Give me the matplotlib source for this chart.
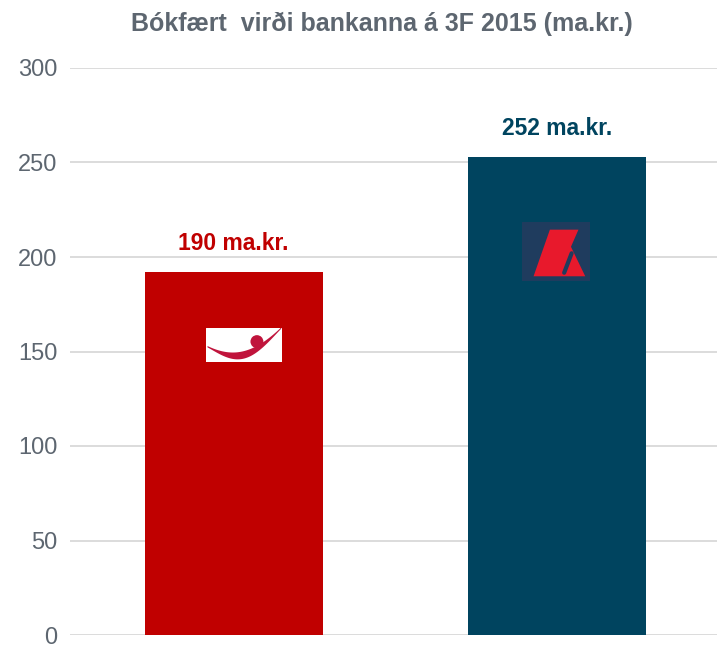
import matplotlib
matplotlib.use("Agg")
import matplotlib.pyplot as plt
from matplotlib.patches import Rectangle, Polygon, Ellipse
import numpy as np

banks = ["Íslandsbanki", "Landsbankinn"]
values = [192, 253]
labels = ["190 ma.kr.", "252 ma.kr."]
colors = ["#C00000", "#00445F"]
title = "Bókfært  virði bankanna á 3F 2015 (ma.kr.)"

plt.rcParams['font.family'] = ['Liberation Sans', 'DejaVu Sans']
W, H = 717, 649
fig = plt.figure(figsize=(W/100, H/100), dpi=100)
ax = fig.add_axes([70/W, 1-635/H, 647/W, 567/H])

x = np.arange(len(values))
ax.bar(x + 0.006, values, width=0.55, color=colors, zorder=2)
ax.set_xlim(-0.5, 1.5)
ax.set_ylim(0, 300)
ax.set_yticks(range(0, 301, 50))
ax.set_xticks([])
ax.yaxis.grid(True, color="#d9d9d9", lw=1.3, zorder=0)
for s in ax.spines.values():
    s.set_visible(False)
ax.tick_params(axis='y', length=0, labelsize=17, labelcolor="#5d6670", pad=9)

for xi, v, lab, c in zip(x, values, labels, colors):
    ax.text(xi + 0.006, v + 9, lab, ha='center', va='bottom', fontsize=16.5,
            fontweight='bold', color=c)

fig.text(382/W, 1-24/H, title, ha='center', va='center', fontsize=18,
         fontweight='bold', color="#5d6670")

# Íslandsbanki logo
la = fig.add_axes([206/W, 1-362/H, 76/W, 34/H])
la.set_xlim(0, 1); la.set_ylim(0, 1); la.axis('off')
la.add_patch(Rectangle((0, 0), 1, 1, color="white"))
t = np.linspace(0, 1, 80)
xc = 0.02 + 0.97*t
yc = 0.45 - 0.32*np.sin(np.pi*t*1.1) + 0.45*t**2.5
thick = 0.04 + 0.18*np.sin(np.pi*t)**1.5
la.add_patch(Polygon(np.vstack([np.c_[xc, yc + thick/2], np.c_[xc, yc - thick/2][::-1]]),
                     color="#C0143C", lw=0))
la.add_patch(Ellipse((0.67, 0.6), 0.17, 0.38, color="#C0143C", lw=0))

# Landsbankinn logo
lb = fig.add_axes([522/W, 1-281/H, 68/W, 59/H])
lb.set_xlim(0, 1); lb.set_ylim(0, 1); lb.axis('off')
lb.add_patch(Rectangle((0, 0), 1, 1, color="#1F3C5E"))
lb.add_patch(Polygon([(0.41, 0.87), (0.83, 0.87), (0.72, 0.58), (0.93, 0.08),
                      (0.17, 0.08)], color="#E8192C", lw=0))
lb.plot([0.73, 0.62], [0.47, 0.14], color="#1F3C5E", lw=3, solid_capstyle='round')

fig.savefig("out.png", dpi=100)
